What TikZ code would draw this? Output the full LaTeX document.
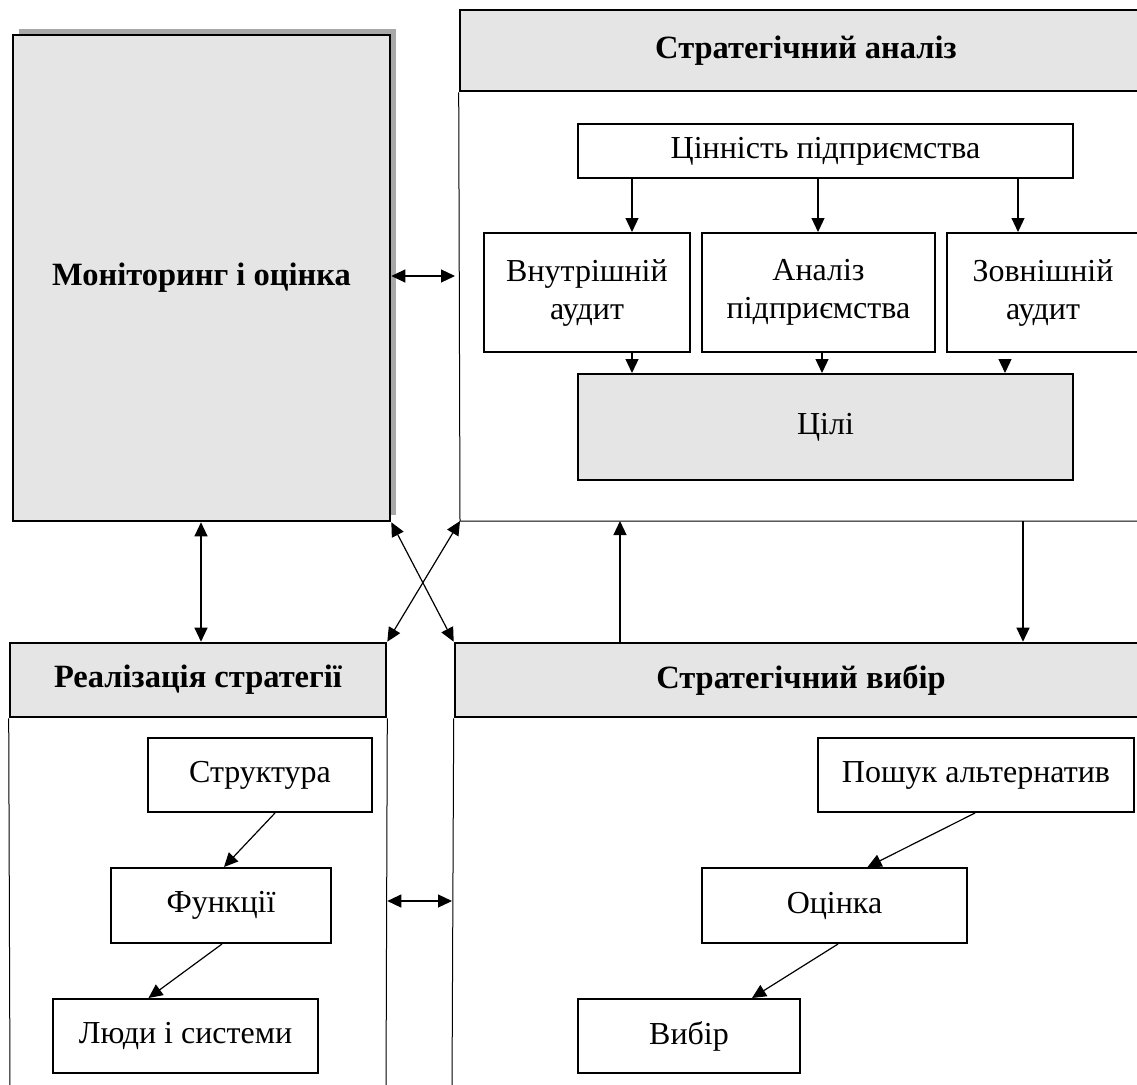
\documentclass[tikz,border=0pt]{standalone}
\usepackage{fontspec}
\setmainfont{Liberation Serif}
\usetikzlibrary{arrows.meta}
\definecolor{panelgray}{HTML}{E5E5E5}
\definecolor{shadowgray}{HTML}{A8A8A8}
\begin{document}
\begin{tikzpicture}[x=1pt,y=-1pt,
  txt/.style={font=\fontsize{32}{38}\selectfont, align=center, inner sep=0pt},
  box/.style={txt, draw, line width=2pt, minimum height=74pt},
  header/.style={box, fill=panelgray, line width=2.6pt, font=\fontsize{32.5}{38}\selectfont\bfseries},
  panel/.style={line width=1pt},
  arr/.style={line width=1.2pt, -{Triangle[length=14pt,width=13pt]}},
  dbl/.style={line width=1.2pt, {Triangle[length=14pt,width=13pt]}-{Triangle[length=14pt,width=13pt]}}]
\useasboundingbox (0,0) rectangle (1137,1084);
\clip (0,0) rectangle (1137,1084);

% monitoring block with its shadow
\fill[shadowgray] (19,29) rectangle (396,515);
\node[header, minimum width=377pt, minimum height=486pt] (mon) at (201.5,278) {Моніторинг і оцінка};

% strategic analysis panel
\node[header, minimum width=692pt, minimum height=81pt] (sa) at (806,50.5) {Стратегічний аналіз};
\coordinate (saBL) at (460,521);
\coordinate (saBR) at (1140,521);
\draw[panel] (sa.south west) -- (saBL) -- (saBR);

\node[box, minimum width=495pt, minimum height=54pt] (val) at (825.5,151) {Цінність підприємства};
\node[box, minimum width=206pt, minimum height=119pt] (inner) at (587,292.5) {Внутрішній\\аудит};
\node[box, minimum width=233pt, minimum height=119pt] (anal) at (818.5,292.5) {Аналіз\\підприємства};
\node[box, minimum width=192pt, minimum height=119pt] (outer) at (1043,292.5) {Зовнішній\\аудит};
\node[box, fill=panelgray, minimum width=495pt, minimum height=106pt] (goals) at (825.5,427) {Цілі};

\coordinate (c1) at (632,0);
\coordinate (c2) at (818,0);
\coordinate (c3) at (1018,0);
\coordinate (c4) at (822,0);
\coordinate (c5) at (1005,0);
\draw[arr] (val.south -| c1) -- (inner.north -| c1);
\draw[arr] (val.south -| c2) -- (anal.north -| c2);
\draw[arr] (val.south -| c3) -- (outer.north -| c3);
\draw[arr] (inner.south -| c1) -- (goals.north -| c1);
\draw[arr] (anal.south -| c4) -- (goals.north -| c4);
\draw[arr] ([yshift=-8pt]outer.south -| c5) -- (goals.north -| c5);

% strategy implementation panel
\node[header, minimum width=376pt, minimum height=74pt] (real) at (198,680) {Реалізація стратегії};
\coordinate (reBL) at (10,1090);
\coordinate (reBR) at (386,1090);
\draw[panel] (real.south west) -- (reBL);
\draw[panel] (real.south east) -- (reBR);

\node[box, minimum width=224pt] (struct) at (260,775) {Структура};
\node[box, minimum width=220pt, minimum height=75pt] (func) at (221,905.5) {Функції};
\node[box, minimum width=265pt] (people) at (185.5,1036) {Люди і системи};
\draw[arr] ([xshift=15pt]struct.south) -- ([xshift=3pt]func.north);
\draw[arr] ([xshift=1pt]func.south) -- ([xshift=-37pt]people.north);

% strategic choice panel
\node[header, minimum width=692pt, minimum height=74pt] (sc) at (801,680) {Стратегічний вибір};
\coordinate (scBL) at (452,1090);
\draw[panel] (sc.south west) -- (scBL);

\node[box, minimum width=316pt] (search) at (976,775) {Пошук альтернатив};
\node[box, minimum width=265pt, minimum height=75pt] (eval) at (834.5,905.5) {Оцінка};
\node[box, minimum width=222pt] (choice) at (689,1036) {Вибір};
\draw[arr] ([xshift=-1pt]search.south) -- ([xshift=33pt]eval.north);
\draw[arr] ([xshift=3.5pt]eval.south) -- ([xshift=63pt]choice.north);

% links between the four stages
\coordinate (c6) at (620,0);
\coordinate (c7) at (1023,0);
\coordinate (c8) at (0,276);
\coordinate (c9) at (0,901);
\coordinate (c10) at (201,0);
\draw[dbl] (mon.east |- c8) -- ([xshift=-5pt]saBL |- c8);
\draw[dbl] (mon.south -| c10) -- (real.north -| c10);
\draw[dbl] (mon.south east) -- (sc.north west);
\draw[dbl] (saBL) -- (real.north east);
\draw[arr] (sc.north -| c6) -- (saBL -| c6);
\draw[arr] (saBL -| c7) -- (sc.north -| c7);
\draw[dbl] (real.east |- c9) -- (scBL |- c9);
\end{tikzpicture}
\end{document}
